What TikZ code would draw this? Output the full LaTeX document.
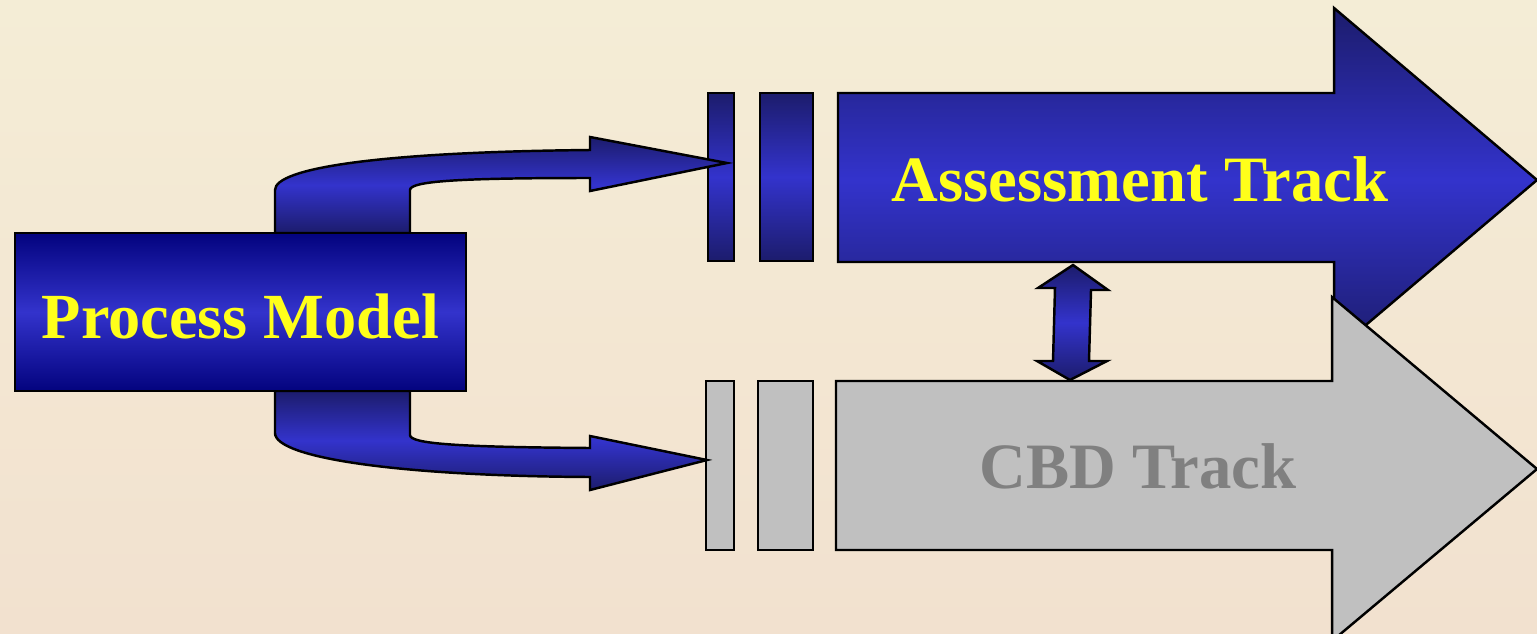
\documentclass[tikz,border=0pt]{standalone}
\usepackage{fontspec}
\setmainfont{Liberation Serif}
\definecolor{bgtop}{HTML}{F4EDD6}
\definecolor{bgbot}{HTML}{F2E1CF}
\definecolor{navy}{HTML}{03037E}
\definecolor{navydark}{HTML}{1C1C6C}
\definecolor{royal}{HTML}{3333CC}
\definecolor{trackgray}{HTML}{C0C0C0}
\definecolor{labelgray}{HTML}{808080}
\definecolor{labelyellow}{HTML}{FFFF1A}

\begin{document}
\begin{tikzpicture}[
			x=0.01cm, y=-0.01cm,
			blueshape/.style={draw=black, line width=0.7pt, top color=navydark, bottom color=navydark, middle color=royal},
			grayshape/.style={draw=black, line width=0.7pt, fill=trackgray},
			tracktext/.style={font=\fontsize{18.4}{22}\selectfont\bfseries, anchor=base} % label size of the slide
			]
			\useasboundingbox (0,0) rectangle (1537,633);
			\clip (0,0) rectangle (1537,633);
			\fill[top color=bgtop, bottom color=bgbot] (0,0) rectangle (1537,633);

			% assessment track
			\path[blueshape] (838,93) -- (1334,93) -- (1334,8) -- (1537,180) -- (1334,352) -- (1334,262) -- (838,262) -- cycle;
			\path[blueshape] (708,93) rectangle (734,261);
			\path[blueshape] (760,93) rectangle (813,261);
			\node[tracktext, text=labelyellow] (assess) at (1140,201) {Assessment Track};

			% cbd track
			\path[grayshape] (836,381) -- (1332,381) -- (1332,297) -- (1537,469) -- (1332,641) -- (1332,550) -- (836,550) -- cycle;
			\path[grayshape] (706,381) rectangle (734,550);
			\path[grayshape] (758,381) rectangle (813,550);
			\node[tracktext, text=labelgray] (cbd) at (1138,488) {CBD Track};

			% link between the tracks
			\path[blueshape] (1073,265) -- (1108,290) -- (1091,290) -- (1089,361) -- (1107,361) -- (1070,380)
				-- (1037,361) -- (1053,361) -- (1055,288) -- (1038,288) -- cycle;

			% bent arrows out of the model
			\path[blueshape] (275,233) -- (275,190) .. controls (275,168) and (380,152) .. (590,150)
				-- (590,137) -- (727,163) -- (590,191) -- (590,178)
				.. controls (460,178) and (410,181) .. (410,190) -- (410,233) -- cycle;
			\path[blueshape] (275,391) -- (275,433) .. controls (275,458) and (400,476) .. (590,477)
				-- (590,490) -- (707,460) -- (590,436) -- (590,448)
				.. controls (460,447) and (410,444) .. (410,435) -- (410,391) -- cycle;

			\node[draw=black, line width=0.7pt, top color=navy, bottom color=navy, middle color=royal,
				minimum width=4.51cm, minimum height=1.58cm, inner sep=0pt, text height=0.52cm, text depth=0pt,
				font=\fontsize{18.3}{22}\selectfont\bfseries, text=labelyellow] (model) at (240.5,312) {Process Model};
		\end{tikzpicture}
\end{document}
